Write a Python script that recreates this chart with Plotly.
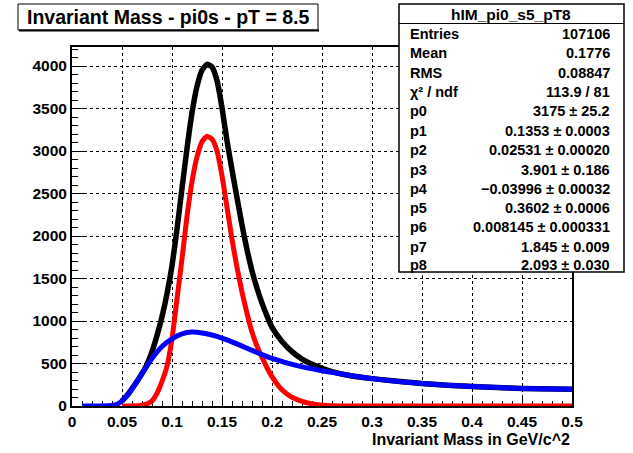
import plotly.graph_objects as go

# ---------------- data ----------------
blue_x = [0.01, 0.02, 0.03, 0.04, 0.045, 0.05, 0.055, 0.06, 0.07, 0.08, 0.09, 0.10,
          0.11, 0.12, 0.13, 0.14, 0.15, 0.16, 0.17, 0.18, 0.19, 0.20, 0.225, 0.25,
          0.275, 0.30, 0.35, 0.40, 0.45, 0.50]
blue_y = [0, 0, 0, 5, 20, 60, 120, 200, 380, 560, 700, 790,
          850, 870, 860, 835, 800, 755, 705, 655, 605, 560, 475, 415,
          365, 322, 265, 228, 207, 198]

red_x = [0.05, 0.06, 0.07, 0.075, 0.08, 0.085, 0.09, 0.095, 0.10, 0.105, 0.11, 0.115,
         0.12, 0.125, 0.13, 0.135, 0.14, 0.145, 0.15, 0.155, 0.16, 0.165, 0.17, 0.175,
         0.18, 0.185, 0.19, 0.195, 0.20, 0.205, 0.21, 0.215, 0.22, 0.23, 0.24, 0.25,
         0.26, 0.28, 0.30, 0.40, 0.50]
red_y = [0, 0, 10, 25, 60, 150, 290, 470, 790, 1260, 1730, 2230,
         2640, 2930, 3110, 3175, 3140, 3000, 2710, 2340, 1960, 1630, 1340, 1090,
         870, 705, 575, 450, 345, 260, 190, 140, 102, 55, 25, 10,
         3, 0, 0, 0, 0]

black_x = [0.05, 0.055, 0.06, 0.065, 0.07, 0.075, 0.08, 0.085, 0.09, 0.095, 0.10, 0.105,
           0.11, 0.115, 0.12, 0.125, 0.13, 0.135, 0.14, 0.145, 0.15, 0.155, 0.16, 0.165,
           0.17, 0.175, 0.18, 0.185, 0.19, 0.195, 0.20, 0.21, 0.22, 0.23, 0.24, 0.25,
           0.26, 0.28, 0.30, 0.35, 0.40, 0.45, 0.50]
black_y = [60, 125, 205, 290, 380, 490, 640, 830, 1050, 1320, 1650, 2080,
           2560, 3030, 3450, 3760, 3950, 4020, 3990, 3830, 3510, 3120, 2780, 2450,
           2130, 1840, 1590, 1385, 1210, 1060, 925, 760, 640, 552, 490, 443,
           405, 352, 322, 265, 228, 207, 198]

x_ticks = [0, 0.05, 0.1, 0.15, 0.2, 0.25, 0.3, 0.35, 0.4, 0.45, 0.5]
x_tick_text = ["0", "0.05", "0.1", "0.15", "0.2", "0.25", "0.3", "0.35", "0.4", "0.45", "0.5"]
y_ticks = [0, 500, 1000, 1500, 2000, 2500, 3000, 3500, 4000]
y_tick_text = ["0", "500", "1000", "1500", "2000", "2500", "3000", "3500", "4000"]

title_text = "Invariant Mass - pi0s - pT = 8.5"
x_title = "Invariant Mass in GeV/c^2"
stats_title = "hIM_pi0_s5_pT8"
stats_labels = ["Entries", "Mean", "RMS", "χ² / ndf", "p0", "p1", "p2", "p3", "p4",
                "p5", "p6", "p7", "p8"]
stats_values = ["107106", "0.1776", "0.08847", "113.9 / 81", "3175 ± 25.2",
                "0.1353 ± 0.0003", "0.02531 ± 0.00020", "3.901 ± 0.186",
                "−0.03996 ± 0.00032", "0.3602 ± 0.0006", "0.008145 ± 0.000331",
                "1.845 ± 0.009", "2.093 ± 0.030"]

# ---------------- layout helpers ----------------
W, H = 633, 453
L, R, T, B = 72, 61, 47, 47
PW, PH = W - L - R, H - T - B

def px(x):
    return (x - L) / PW

def py(y):
    return (H - B - y) / PH

FONT = "Liberation Sans"

fig = go.Figure()
fig.add_trace(go.Scatter(x=black_x, y=black_y, mode="lines", cliponaxis=False,
                         line=dict(color="black", width=5.5, shape="spline", smoothing=0.5),
                         showlegend=False, hoverinfo="skip"))
fig.add_trace(go.Scatter(x=red_x, y=red_y, mode="lines", cliponaxis=False,
                         line=dict(color="#ff0000", width=5, shape="spline", smoothing=0.5),
                         showlegend=False, hoverinfo="skip"))
fig.add_trace(go.Scatter(x=blue_x, y=blue_y, mode="lines", cliponaxis=False,
                         line=dict(color="#0000ff", width=5, shape="spline", smoothing=0.5),
                         showlegend=False, hoverinfo="skip"))

axis_common = dict(
    showline=True, linecolor="black", linewidth=2, mirror=True,
    ticks="inside", tickcolor="black", tickwidth=1,
    showgrid=True, gridcolor="black", griddash="dot", gridwidth=1,
    zeroline=False, layer="below traces",
    tickfont=dict(family=FONT, size=15.5, color="black", weight="bold"),
)

fig.update_layout(
    width=W, height=H,
    margin=dict(l=L, r=R, t=T, b=B),
    paper_bgcolor="white", plot_bgcolor="white",
    showlegend=False,
    xaxis=dict(range=[0, 0.5], tickvals=x_ticks, ticktext=x_tick_text, ticklen=10,
               minor=dict(dtick=0.01, tick0=0, ticks="inside", ticklen=5,
                          tickcolor="black", showgrid=False),
               **axis_common),
    yaxis=dict(range=[0, 4224], tickvals=y_ticks, ticktext=y_tick_text, ticklen=12,
               minor=dict(dtick=100, tick0=0, ticks="inside", ticklen=6,
                          tickcolor="black", showgrid=False),
               **axis_common),
)

shapes = []
annotations = []

# title box
shapes.append(dict(type="rect", xref="paper", yref="paper",
                   x0=px(18), x1=px(318), y0=py(30), y1=py(4),
                   line=dict(color="black", width=1), fillcolor="white"))
shapes.append(dict(type="line", xref="paper", yref="paper",
                   x0=px(19), x1=px(319), y0=py(30.5), y1=py(30.5),
                   line=dict(color="black", width=2)))
annotations.append(dict(xref="paper", yref="paper", x=px(168), y=py(17),
                        text=title_text, showarrow=False, xanchor="center", yanchor="middle",
                        font=dict(family=FONT, size=19.5, color="black", weight="bold")))

# stats box
shapes.append(dict(type="rect", xref="paper", yref="paper",
                   x0=px(399), x1=px(624), y0=py(272), y1=py(4),
                   line=dict(color="black", width=1.5), fillcolor="white"))
shapes.append(dict(type="line", xref="paper", yref="paper",
                   x0=px(399), x1=px(624), y0=py(23.5), y1=py(23.5),
                   line=dict(color="black", width=1.2)))
annotations.append(dict(xref="paper", yref="paper", x=px(511), y=py(14.5),
                        text=stats_title, showarrow=False, xanchor="center", yanchor="middle",
                        font=dict(family=FONT, size=15.5, color="black", weight="bold")))
row_y = [34.3, 53.3, 73.3, 92, 111, 131, 150, 170, 188.5, 208, 227.5, 246.5, 265]
for lab, val, ry in zip(stats_labels, stats_values, row_y):
    annotations.append(dict(xref="paper", yref="paper", x=px(408), y=py(ry),
                            text=lab, showarrow=False, xanchor="left", yanchor="middle",
                            font=dict(family=FONT, size=14.5, color="black", weight="bold")))
    annotations.append(dict(xref="paper", yref="paper", x=px(612), y=py(ry),
                            text=val, showarrow=False, xanchor="right", yanchor="middle",
                            font=dict(family=FONT, size=14.5, color="black", weight="bold")))

# x axis title (right aligned, ROOT style)
annotations.append(dict(xref="paper", yref="paper", x=px(572), y=py(440),
                        text=x_title, showarrow=False, xanchor="right", yanchor="middle",
                        font=dict(family=FONT, size=16, color="black", weight="bold")))

fig.update_layout(shapes=shapes, annotations=annotations)
fig.write_html("out.html")
